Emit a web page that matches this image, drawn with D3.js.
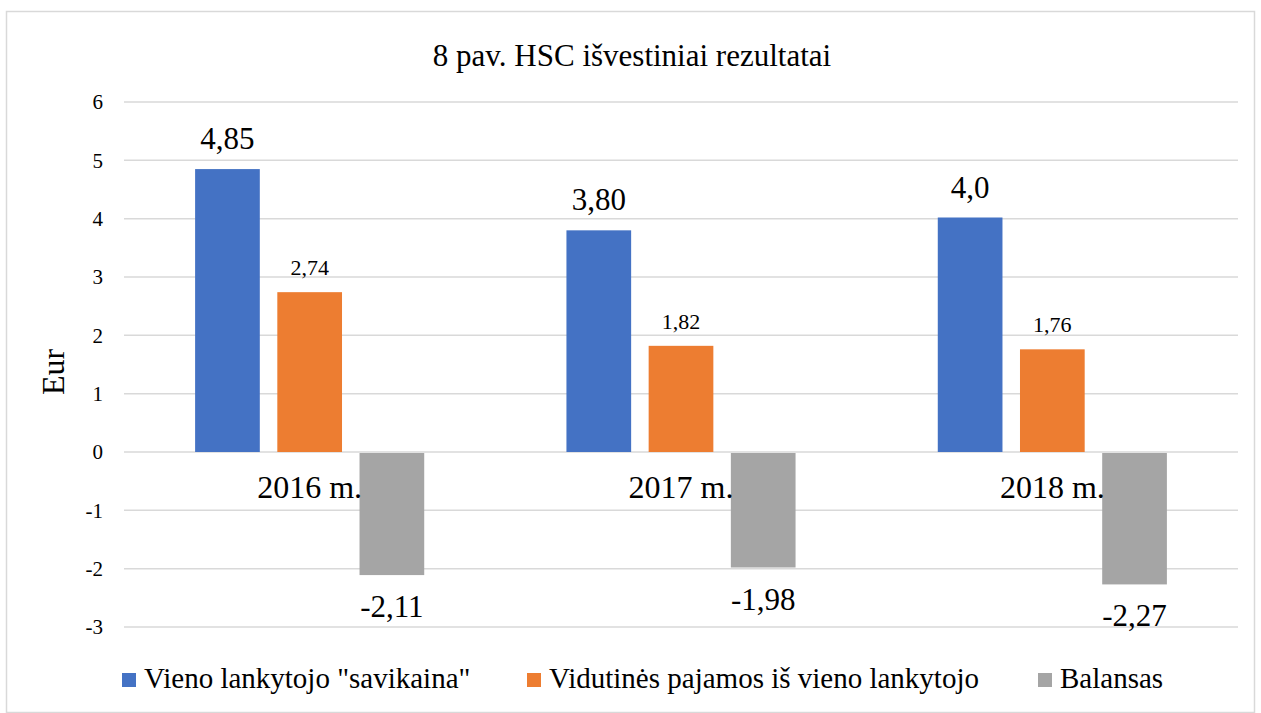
<!DOCTYPE html>
<html>
<head>
<meta charset="utf-8">
<script src="https://cdn.jsdelivr.net/npm/d3@7"></script>
<style>
  body { margin: 0; background: #fff; }
  text { font-family: "Liberation Serif", "Times New Roman", serif; fill: #000; }
</style>
</head>
<body>
<script>
// chart data
var years = ["2016 m.", "2017 m.", "2018 m."];
var seriesNames = ['Vieno lankytojo "savikaina"', "Vidutinės pajamos iš vieno lankytojo", "Balansas"];
var costValues = [4.85, 3.80, 4.02];
var incomeValues = [2.74, 1.82, 1.76];
var balanceValues = [-2.11, -1.98, -2.27];
var costLabels = ["4,85", "3,80", "4,0"];
var incomeLabels = ["2,74", "1,82", "1,76"];
var balanceLabels = ["-2,11", "-1,98", "-2,27"];
var yTicks = [-3, -2, -1, 0, 1, 2, 3, 4, 5, 6];
var colors = ["#4472C4", "#ED7D31", "#A5A5A5"];

var svgWidth = 1261;
var svgHeight = 713;
var margin = { top: 102, right: 23, bottom: 86, left: 124 };
var width = svgWidth - margin.left - margin.right;
var height = svgHeight - margin.top - margin.bottom;

var svg = d3.select("body").append("svg").attr("width", svgWidth).attr("height", svgHeight);

// outer border
svg.append("rect")
  .attr("x", 6.5).attr("y", 11.5)
  .attr("width", svgWidth - 13).attr("height", svgHeight - 12)
  .attr("fill", "none").attr("stroke", "#D9D9D9").attr("stroke-width", 1.5);

svg.append("text")
  .attr("x", 632).attr("y", 66)
  .attr("text-anchor", "middle")
  .style("font-size", "31px")
  .text("8 pav. HSC išvestiniai rezultatai");

var chartGroup = svg.append("g").attr("transform", `translate(${margin.left}, ${margin.top})`);

var x0 = d3.scaleBand().domain(years).range([0, width]).paddingInner(0.383).paddingOuter(0.1915);
var x1 = d3.scaleBand().domain([0, 1, 2]).range([0, x0.bandwidth()]).paddingInner(0.213);
var y = d3.scaleLinear().domain([-3, 6]).range([height, 0]);

// gridlines
chartGroup.selectAll(".grid")
  .data(yTicks)
  .enter()
  .append("line")
  .attr("x1", 0).attr("x2", width)
  .attr("y1", d => y(d)).attr("y2", d => y(d))
  .attr("stroke", "#D9D9D9").attr("stroke-width", 1.5);

// y axis labels
var leftAxis = d3.axisLeft(y).tickValues(yTicks).tickSize(0).tickPadding(21).tickFormat(d => String(d));
var yAxis = chartGroup.append("g").call(leftAxis);
yAxis.select(".domain").remove();
yAxis.selectAll("text")
  .style("font-family", '"Liberation Serif", serif')
  .style("font-size", "21px")
  .attr("fill", "#000");

var series = [
  { values: costValues, labels: costLabels, size: 31, gap: 20 },
  { values: incomeValues, labels: incomeLabels, size: 22, gap: 17 },
  { values: balanceValues, labels: balanceLabels, size: 31, gap: 42 }
];

series.forEach(function(s, i) {
  var g = chartGroup.append("g");
  g.selectAll("rect")
    .data(s.values)
    .enter()
    .append("rect")
    .attr("x", (d, j) => x0(years[j]) + x1(i))
    .attr("width", x1.bandwidth())
    .attr("y", d => y(Math.max(0, d)) + (d < 0 ? 1 : 0))
    .attr("height", d => Math.abs(y(d) - y(0)) - (d < 0 ? 1 : 0))
    .attr("fill", colors[i]);

  g.selectAll("text")
    .data(s.values)
    .enter()
    .append("text")
    .attr("x", (d, j) => x0(years[j]) + x1(i) + x1.bandwidth() / 2)
    .attr("y", d => d >= 0 ? y(d) - s.gap : y(d) + s.gap)
    .attr("text-anchor", "middle")
    .style("font-size", s.size + "px")
    .text((d, j) => s.labels[j]);
});

// category labels
chartGroup.selectAll(".cat")
  .data(years)
  .enter()
  .append("text")
  .attr("x", d => x0(d) + x0.bandwidth() / 2)
  .attr("y", y(0) + 46)
  .attr("text-anchor", "middle")
  .style("font-size", "32px")
  .text(d => d);

// axis title
svg.append("text")
  .attr("transform", "translate(64, 372) rotate(-90)")
  .attr("text-anchor", "middle")
  .style("font-size", "32px")
  .text("Eur");

// legend
var legendX = [122, 527, 1038];
var legend = svg.selectAll(".legend")
  .data(seriesNames)
  .enter()
  .append("g")
  .attr("transform", (d, i) => `translate(${legendX[i]}, 673)`);
legend.append("rect")
  .attr("width", 14).attr("height", 14)
  .attr("fill", (d, i) => colors[i]);
legend.append("text")
  .attr("x", 22).attr("y", 15)
  .style("font-size", "29px")
  .text(d => d);
</script>
</body>
</html>
